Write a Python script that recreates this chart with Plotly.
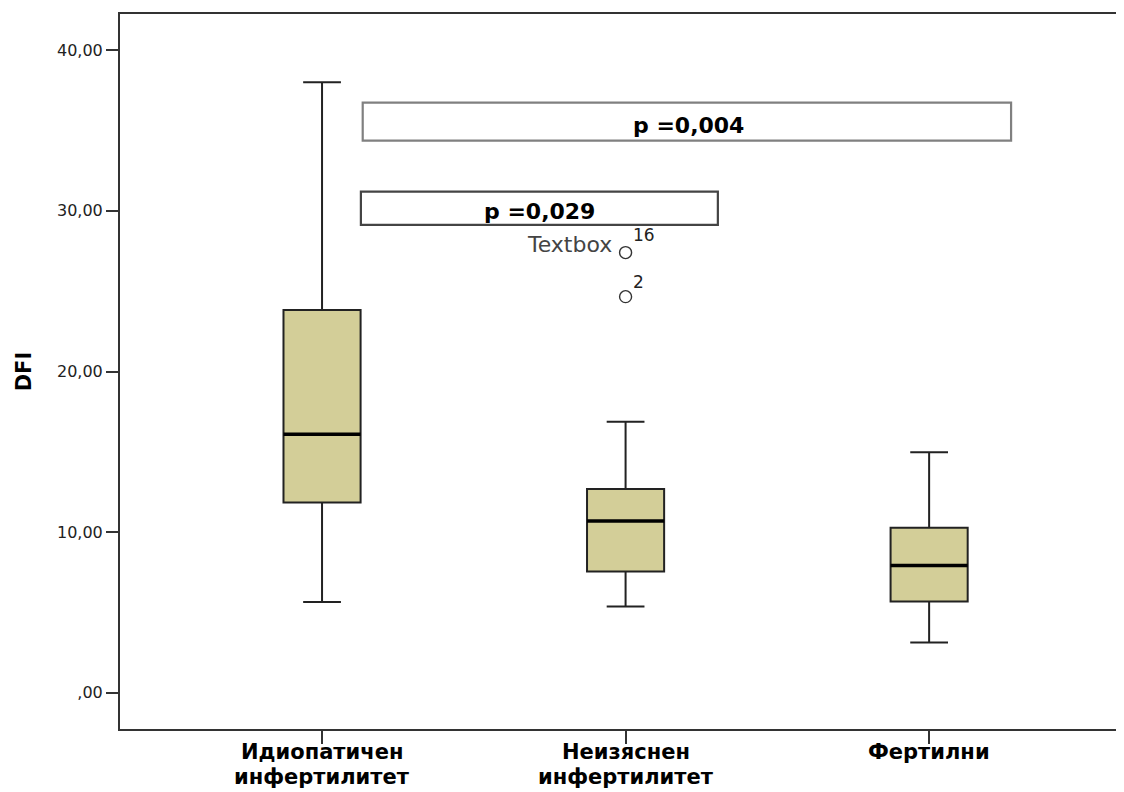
import plotly.graph_objects as go

# ---- data ----
cat_line1 = ["Идиопатичен", "Неизяснен", "Фертилни"]
cat_line2 = ["инфертилитет", "инфертилитет", ""]
positions = [0, 1, 2]
lower_whisker = [5.66, 5.37, 3.13]
q1 = [11.84, 7.55, 5.68]
median = [16.10, 10.70, 7.92]
q3 = [23.83, 12.69, 10.27]
upper_whisker = [38.0, 16.88, 14.98]

outlier_x = [1, 1]
outlier_y = [27.4, 24.66]
outlier_ids = ["16", "2"]

y_tickvals = [0, 10, 20, 30, 40]
y_ticktext = [",00", "10,00", "20,00", "30,00", "40,00"]

# p-value annotation boxes
p_labels = ["p =0,004", "p =0,029"]
p_box_x0 = [0.134, 0.128]
p_box_x1 = [2.27, 1.304]
p_box_y0 = [34.37, 29.12]
p_box_y1 = [36.73, 31.20]
p_label_x = [1.206, 0.718]
p_label_y = [35.30, 29.95]
p_box_color = ["#808080", "#444444"]

box_w = 0.254
FONT = "DejaVu Sans"
CAT_SIZE = 21

fig = go.Figure()

fig.add_trace(go.Box(
    x=positions, q1=q1, median=median, q3=q3,
    lowerfence=lower_whisker, upperfence=upper_whisker,
    width=box_w, whiskerwidth=0.49,
    fillcolor="#D3CE98", line=dict(color="#222222", width=2),
    boxpoints=False, hoverinfo="skip", showlegend=False,
))

# thick median lines
for p, m in zip(positions, median):
    fig.add_trace(go.Scatter(
        x=[p - box_w / 2, p + box_w / 2], y=[m, m], mode="lines",
        line=dict(color="black", width=3.5), showlegend=False, hoverinfo="skip",
    ))

# outliers
fig.add_trace(go.Scatter(
    x=outlier_x, y=outlier_y, mode="markers",
    marker=dict(symbol="circle-open", size=12, color="#333333", line=dict(width=1.4)),
    showlegend=False, hoverinfo="skip",
))
for xo, yo, lab, ys in zip(outlier_x, outlier_y, outlier_ids, [6, 3]):
    fig.add_annotation(x=xo, y=yo, xref="x", yref="y", text=lab, showarrow=False,
                       xanchor="left", yanchor="bottom", xshift=5, yshift=ys,
                       font=dict(family=FONT, size=17, color="#222222"))

# p-value boxes
for i in range(len(p_labels)):
    fig.add_shape(type="rect", xref="x", yref="y",
                  x0=p_box_x0[i], x1=p_box_x1[i], y0=p_box_y0[i], y1=p_box_y1[i],
                  line=dict(color=p_box_color[i], width=2.2), fillcolor="rgba(0,0,0,0)")
    fig.add_annotation(x=p_label_x[i], y=p_label_y[i], xref="x", yref="y",
                       text=p_labels[i], showarrow=False,
                       font=dict(family=FONT, size=22, color="black", weight="bold"))

fig.add_annotation(x=0.815, y=27.88, xref="x", yref="y", text="Textbox",
                   showarrow=False, font=dict(family=FONT, size=22, color="#444444"))

# category labels (two lines, tightly stacked as in the reference)
for p, t1, t2 in zip(positions, cat_line1, cat_line2):
    fig.add_annotation(x=p, y=0, xref="x", yref="paper", yanchor="top", yshift=-11,
                       text=t1, showarrow=False, borderpad=0, borderwidth=0,
                       font=dict(family=FONT, size=CAT_SIZE, color="black", weight="bold"))
    if t2:
        fig.add_annotation(x=p, y=0, xref="x", yref="paper", yanchor="top", yshift=-36,
                           text=t2, showarrow=False, borderpad=0, borderwidth=0,
                           font=dict(family=FONT, size=CAT_SIZE, color="black", weight="bold"))

fig.update_layout(
    width=1116, height=784,
    margin=dict(l=112, r=0, t=6, b=63, autoexpand=False),
    paper_bgcolor="white", plot_bgcolor="white",
    font=dict(family=FONT, color="black"),
    xaxis=dict(
        range=[-0.6656, 2.642], tickvals=positions, showticklabels=False, automargin=False,
        showgrid=False, zeroline=False, showline=True, linecolor="#333333", linewidth=2,
        mirror=True, ticks="outside", ticklen=13, tickwidth=2, tickcolor="#333333",
    ),
    yaxis=dict(
        range=[-2.25, 42.25], tickvals=y_tickvals, ticktext=y_ticktext, automargin=False,
        showgrid=False, zeroline=False, showline=True, linecolor="#333333", linewidth=2,
        ticks="outside", ticklen=12, tickwidth=2, tickcolor="#333333",
        tickfont=dict(family=FONT, size=16, color="#222222"),
        title=dict(text="DFI", font=dict(family=FONT, size=21, color="black", weight="bold"),
                   standoff=20),
    ),
)

fig.write_html("out.html")
